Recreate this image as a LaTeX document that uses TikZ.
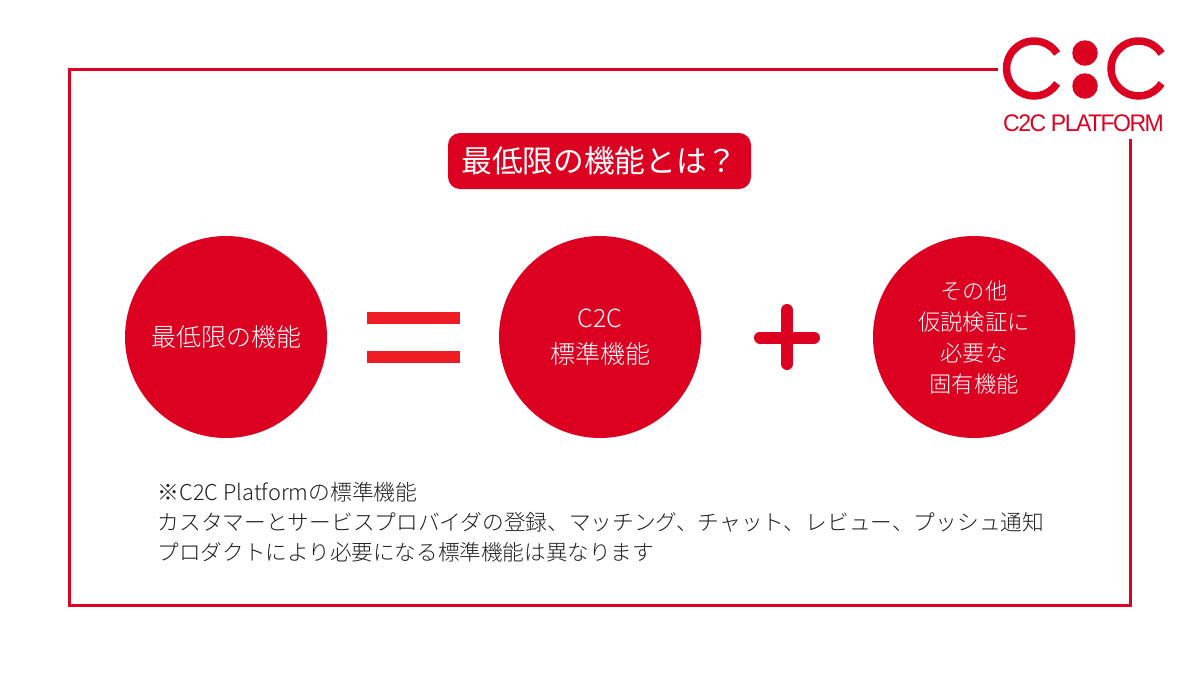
\documentclass[tikz,border=0pt]{standalone}
\usepackage{fontspec}
\setmainfont{Noto Sans CJK JP}
\newfontfamily\lightf{Noto Sans CJK JP Light}
\newfontfamily\logofont[LetterSpace=-6.5,FakeStretch=0.96]{Liberation Sans}
\definecolor{cred}{HTML}{DC0021}
\definecolor{bred}{HTML}{EE1C25}
\definecolor{ink}{HTML}{231F20}
\tikzset{
  x=1pt,y=-1pt,
  bigc/.style={circle,fill=cred,draw=none,minimum size=202pt,inner sep=0pt,text=white,align=center,font=\lightf\fontsize{25}{36}\selectfont},
  note/.style={anchor=base west,inner sep=0pt,text=ink,font=\lightf\fontsize{21.6}{26}\selectfont},
  logoc/.style={draw=cred,line width=7.5pt},
  logodot/.style={circle,fill=cred,draw=none,minimum size=25.5pt,inner sep=0pt}
}
\begin{document}
\begin{tikzpicture}
\useasboundingbox (0,0) rectangle (1200,675);
\fill[white] (0,0) rectangle (1200,675);
% frame
\draw[cred,line width=3pt,miter limit=10] (998,69.5) -- (69.5,69.5) -- (69.5,605.5) -- (1130.5,605.5) -- (1130.5,139);
% title
\node (title) at (599.5,161) [fill=cred,rounded corners=12pt,minimum width=303pt,minimum height=56pt,inner sep=0pt,text=white,font=\fontsize{30.7}{36}\selectfont] {最低限の機能とは？};
% circles
\node[bigc] (c1) at (226,337) {最低限の機能};
\node[bigc] (c2) at (600,337) {C2C\\標準機能};
\node[bigc] (c3) at (974,337) {};
\node[inner sep=0pt,text=white,align=center,font=\lightf\fontsize{22.3}{31}\selectfont] (c3text) at (974,338) {その他\\仮説検証に\\必要な\\固有機能};
% equals
\fill[bred] (367,312) rectangle (460,324);
\fill[bred] (367,351) rectangle (460,363);
% plus
\draw[cred,line width=12pt,line cap=round] (760,337.5) -- (814,337.5);
\draw[cred,line width=12pt,line cap=round] (787,310) -- (787,364);
% note
\node[note,font=\lightf\fontsize{21.8}{26}\selectfont] (n1) at (157.5,500) {※C2C Platformの標準機能};
\node[note,font=\lightf\fontsize{21.7}{26}\selectfont] (n2) at (157.5,530) {カスタマーとサービスプロバイダの登録、マッチング、チャット、レビュー、プッシュ通知};
\node[note] (n3) at (157.5,560) {プロダクトにより必要になる標準機能は異なります};
% logo
\draw[logoc] (1034,68.5) ++(33:27.5) arc[start angle=33,end angle=327,radius=27.5];
\draw[logoc] (1138.5,68.5) ++(33:27.5) arc[start angle=33,end angle=327,radius=27.5];
\node[logodot] (d1) at (1085,53) {};
\node[logodot] (d2) at (1085,86) {};
\node (logotext) at (1083.5,123.5) [inner sep=0pt,text=cred,font=\logofont\fontsize{24}{24}\selectfont] {C2C PLATFORM};
\end{tikzpicture}
\end{document}
